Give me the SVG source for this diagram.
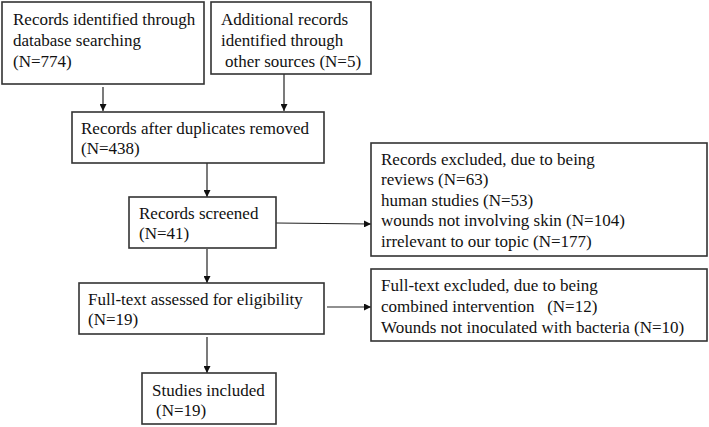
<svg xmlns="http://www.w3.org/2000/svg" width="709" height="427" viewBox="0 0 709 427">
<style>
.box{fill:#fff;stroke:#333;stroke-width:1.6}
text{fill:#111}
.c{stroke:#222;stroke-width:1.2;fill:none}
</style>
<defs>
<marker id="ah" viewBox="0 0 10 10" refX="10" refY="5" markerWidth="7" markerHeight="7" markerUnits="userSpaceOnUse" orient="auto">
<path d="M0,0 L10,5 L0,10 z" fill="#111"/>
</marker>
</defs>
<rect width="709" height="427" fill="#fff"/>
<g id="connectors">
<line class="c" x1="103" y1="87" x2="103" y2="111" marker-end="url(#ah)"/>
<line class="c" x1="284" y1="74" x2="284" y2="111" marker-end="url(#ah)"/>
<line class="c" x1="207" y1="163" x2="207" y2="197" marker-end="url(#ah)"/>
<line class="c" x1="276" y1="223" x2="371" y2="224" marker-end="url(#ah)"/>
<line class="c" x1="207" y1="249" x2="207" y2="283" marker-end="url(#ah)"/>
<line class="c" x1="327" y1="307" x2="371" y2="307" marker-end="url(#ah)"/>
<line class="c" x1="207" y1="337" x2="207" y2="373" marker-end="url(#ah)"/>
</g>
<g font-family="Liberation Serif" font-size="17">
<g id="n1">
<rect class="box" x="2" y="2" width="202" height="82"/>
<text x="13" y="25">Records identified through</text>
<text x="13" y="46">database searching</text>
<text x="13" y="67">(N=774)</text>
</g>
<g id="n2">
<rect class="box" x="211" y="2" width="160" height="72"/>
<text x="221" y="25">Additional records</text>
<text x="221" y="46">identified through</text>
<text x="225" y="67">other sources (N=5)</text>
</g>
<g id="n3">
<rect class="box" x="72" y="112" width="252" height="51"/>
<text x="81" y="134">Records after duplicates removed</text>
<text x="81" y="154">(N=438)</text>
</g>
<g id="n4">
<rect class="box" x="129" y="197" width="147" height="51"/>
<text x="139" y="219">Records screened</text>
<text x="139" y="239">(N=41)</text>
</g>
<g id="n5">
<rect class="box" x="371" y="143" width="336" height="113"/>
<text x="381" y="165">Records excluded, due to being</text>
<text x="381" y="185">reviews (N=63)</text>
<text x="381" y="206">human studies (N=53)</text>
<text x="381" y="226">wounds not involving skin (N=104)</text>
<text x="381" y="247">irrelevant to our topic (N=177)</text>
</g>
<g id="n6">
<rect class="box" x="79" y="283" width="245" height="51"/>
<text x="88" y="305">Full-text assessed for eligibility</text>
<text x="88" y="325">(N=19)</text>
</g>
<g id="n7">
<rect class="box" x="371" y="269" width="336" height="72"/>
<text x="381" y="291">Full-text excluded, due to being</text>
<text x="381" y="312" xml:space="preserve">combined intervention   (N=12)</text>
<text x="381" y="333">Wounds not inoculated with bacteria (N=10)</text>
</g>
<g id="n8">
<rect class="box" x="142" y="373" width="134" height="51"/>
<text x="152" y="396">Studies included</text>
<text x="156" y="416">(N=19)</text>
</g>
</g>
</svg>
